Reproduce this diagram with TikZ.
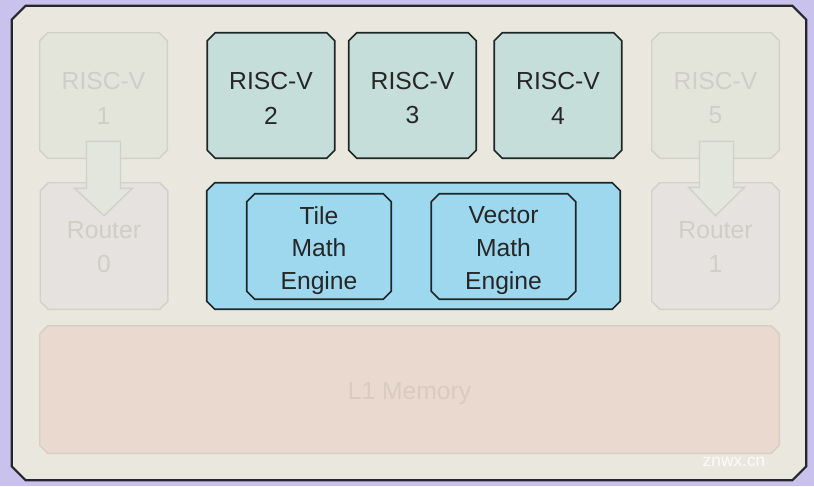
\documentclass[tikz,border=0pt]{standalone}
\usepackage{fontspec}
\setmainfont{Liberation Sans}
\usetikzlibrary{calc,backgrounds}
\definecolor{bgl}{HTML}{C9C2EC}
\definecolor{board}{HTML}{EAE8DE}
\definecolor{boardline}{HTML}{26262E}
\definecolor{fadefill}{HTML}{E3E5DB}
\definecolor{routfill}{HTML}{E6E2DF}
\definecolor{fadeline}{HTML}{D2D1C7}
\definecolor{fadetext}{HTML}{CFCEC6}
\definecolor{cpufill}{HTML}{C6DED9}
\definecolor{darkline}{HTML}{1E2626}
\definecolor{bluefill}{HTML}{9DD8EF}
\definecolor{memfill}{HTML}{EAD9CF}
\definecolor{memline}{HTML}{D6D0C2}
\definecolor{memtext}{HTML}{D8CBC2}
\definecolor{arrfill}{HTML}{E2E6DC}
\newcommand\chamf[3]{%
  \begin{pgfonlayer}{background}
  \draw[#1] ($(#2.north west)+(#3,0)$) -- ($(#2.north east)+(-#3,0)$) -- ($(#2.north east)+(0,#3)$)
    -- ($(#2.south east)+(0,-#3)$) -- ($(#2.south east)+(-#3,0)$) -- ($(#2.south west)+(#3,0)$)
    -- ($(#2.south west)+(0,-#3)$) -- ($(#2.north west)+(0,#3)$) -- cycle;
  \end{pgfonlayer}}
\tikzset{
  geom/.style={rectangle, inner sep=0pt},
  txt/.style={align=center, font=\fontsize{18.5}{26}\selectfont},
  etxt/.style={align=center, font=\fontsize{18.5}{24.6}\selectfont},
  cpusize/.style={geom, minimum width=0.75*127pt, minimum height=0.75*125pt},
  routsize/.style={geom, minimum width=0.75*127pt, minimum height=0.75*126pt},
  engsize/.style={geom, minimum width=0.75*144pt, minimum height=0.75*105pt},
  fadeshape/.style={fill=fadefill, draw=fadeline, line width=1.1pt},
  routshape/.style={fill=routfill, draw=fadeline, line width=1.1pt},
  cpushape/.style={fill=cpufill, draw=darkline, line width=1.2pt},
  blueshape/.style={fill=bluefill, draw=darkline, line width=1.2pt},
  memshape/.style={fill=memfill, draw=memline, line width=1.1pt},
  blockarrow/.style={fill=arrfill, draw=fadeline, line width=1.1pt, line join=miter},
}
\begin{document}
\begin{tikzpicture}[x=0.75pt,y=-0.75pt]
\useasboundingbox (0,0) rectangle (814,486);
\begin{pgfonlayer}{background}
\fill[bgl] (0,0) rectangle (814,486);
\end{pgfonlayer}
% board
\node[geom, minimum width=0.75*794pt, minimum height=0.75*474pt] (board) at (409,243) {};
\chamf{fill=board, draw=boardline, line width=1.6pt}{board}{14}
% faded cores and routers
\node[cpusize, label={[txt, text=fadetext, yshift=-2pt]center:{RISC-V\\1}}] (r1) at (103.5,95.5) {};
\chamf{fadeshape}{r1}{8}
\node[cpusize, label={[txt, text=fadetext, yshift=-2pt]center:{RISC-V\\5}}] (r5) at (715.5,95.5) {};
\chamf{fadeshape}{r5}{8}
\node[routsize, label={[txt, text=fadetext, yshift=-0.8pt]center:{Router\\0}}] (ro0) at (104,246) {};
\chamf{routshape}{ro0}{8}
\node[routsize, label={[txt, text=fadetext, yshift=-0.8pt]center:{Router\\1}}] (ro1) at (715.5,246) {};
\chamf{routshape}{ro1}{8}
% active cores
\node[cpusize, label={[txt, text=black!85, yshift=-2pt]center:{RISC-V\\2}}] (r2) at (271,95.5) {};
\chamf{cpushape}{r2}{8}
\node[cpusize, label={[txt, text=black!85, yshift=-2pt]center:{RISC-V\\3}}] (r3) at (412.5,95.5) {};
\chamf{cpushape}{r3}{8}
\node[cpusize, label={[txt, text=black!85, yshift=-2pt]center:{RISC-V\\4}}] (r4) at (558,95.5) {};
\chamf{cpushape}{r4}{8}
% math engines container
\node[geom, minimum width=0.75*413pt, minimum height=0.75*126pt] (eng) at (413.5,246) {};
\chamf{blueshape}{eng}{8}
\node[engsize, label={[etxt, text=black!85, yshift=-3pt]center:{Tile\\Math\\Engine}}] (tile) at (319,246.5) {};
\chamf{blueshape}{tile}{8}
\node[engsize, label={[etxt, text=black!85, yshift=-3pt]center:{Vector\\Math\\Engine}}] (vec) at (503.5,246.5) {};
\chamf{blueshape}{vec}{8}
% L1 memory
\node[geom, minimum width=0.75*739pt, minimum height=0.75*127pt,
  label={[txt, text=memtext, yshift=-3pt]center:{L1 Memory}}] (l1) at (409.5,389.5) {};
\chamf{memshape}{l1}{8}
% block arrows
\draw[blockarrow] ($(r1.south)+(-17,-17)$) -- ($(r1.south)+(17,-17)$) -- ($(r1.south)+(17,30)$)
  -- ($(r1.south)+(29,30)$) -- ($(ro0.north)+(0,33)$) -- ($(r1.south)+(-29,30)$) -- ($(r1.south)+(-17,30)$) -- cycle;
\draw[blockarrow] ($(r5.south)+(-16,-17)$) -- ($(r5.south)+(18,-17)$) -- ($(r5.south)+(18,29)$)
  -- ($(r5.south)+(29,29)$) -- ($(ro1.north)+(0,33)$) -- ($(r5.south)+(-27,29)$) -- ($(r5.south)+(-16,29)$) -- cycle;
% watermark
\node[text=white, opacity=0.8, font=\fontsize{13}{15}\selectfont, inner sep=0pt] (wm) at (734,462) {znwx.cn};
\end{tikzpicture}
\end{document}
